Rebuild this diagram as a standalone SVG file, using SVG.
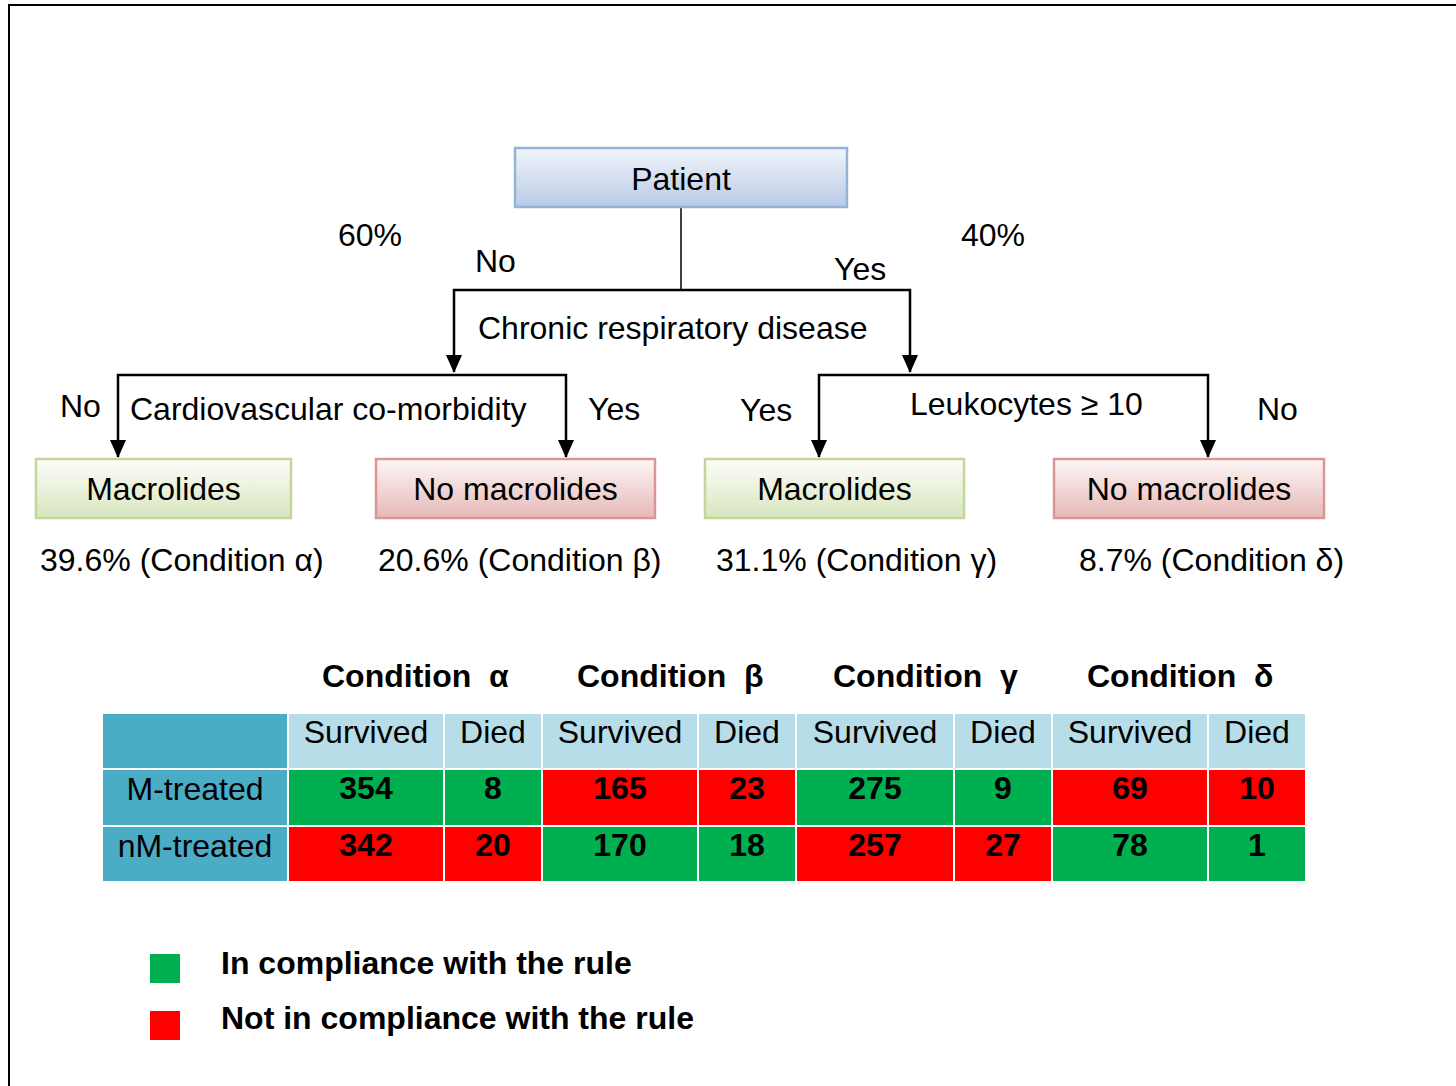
<svg xmlns="http://www.w3.org/2000/svg" width="1456" height="1086" viewBox="0 0 1456 1086">
<defs>
  <linearGradient id="gBlue" x1="0" y1="0" x2="0" y2="1">
    <stop offset="0" stop-color="#f2f5fb"/>
    <stop offset="1" stop-color="#b8cae6"/>
  </linearGradient>
  <linearGradient id="gGreen" x1="0" y1="0" x2="0" y2="1">
    <stop offset="0" stop-color="#fdfef9"/>
    <stop offset="1" stop-color="#d8e5be"/>
  </linearGradient>
  <linearGradient id="gRed" x1="0" y1="0" x2="0" y2="1">
    <stop offset="0" stop-color="#fdf6f6"/>
    <stop offset="1" stop-color="#e6b9b8"/>
  </linearGradient>
  <marker id="arr" markerUnits="userSpaceOnUse" markerWidth="18" markerHeight="16" viewBox="0 0 18 16" refX="17" refY="8" orient="auto">
    <path d="M0,0 L18,8 L0,16 Z" fill="#000"/>
  </marker>
  <style>
    text { font-family: "Liberation Sans", Arial, sans-serif; fill: #000; }
    .t { font-size: 32px; }
    .b { font-size: 32px; font-weight: bold; }
    .c { text-anchor: middle; }
    .pre { white-space: pre; }
    .ln { fill: none; stroke: #000; stroke-width: 2.5; }
    .hdr { fill: #b7dde8; stroke: #fff; stroke-width: 2; }
    .rh { fill: #4bacc6; stroke: #fff; stroke-width: 2; }
    .gr { fill: #00b050; stroke: #fff; stroke-width: 2; }
    .rd { fill: #ff0000; stroke: #fff; stroke-width: 2; }
  </style>
</defs>
<rect x="0" y="0" width="1456" height="1086" fill="#fff"/>
<g id="frame">
  <line x1="8" y1="5" x2="1456" y2="5" stroke="#000" stroke-width="2"/>
  <line x1="9" y1="5" x2="9" y2="1086" stroke="#000" stroke-width="2"/>
</g>

<g id="connectors">
  <line x1="681" y1="207" x2="681" y2="290" stroke="#000" stroke-width="1.5"/>
  <path class="ln" d="M681,290 H454 V372" marker-end="url(#arr)"/>
  <path class="ln" d="M681,290 H910 V372" marker-end="url(#arr)"/>
  <path class="ln" d="M340,375 H118 V457" marker-end="url(#arr)"/>
  <path class="ln" d="M340,375 H566 V457" marker-end="url(#arr)"/>
  <path class="ln" d="M1010,375 H819 V457" marker-end="url(#arr)"/>
  <path class="ln" d="M1010,375 H1208 V457" marker-end="url(#arr)"/>
</g>

<g id="edge-labels">
  <text class="t" x="338" y="246">60%</text>
  <text class="t" x="961" y="246">40%</text>
  <text class="t" x="475" y="272">No</text>
  <text class="t" x="834" y="280">Yes</text>
  <text class="t" x="478" y="339">Chronic respiratory disease</text>
  <text class="t" x="60" y="417">No</text>
  <text class="t" x="130" y="420">Cardiovascular co-morbidity</text>
  <text class="t" x="588" y="420">Yes</text>
  <text class="t" x="740" y="421">Yes</text>
  <text class="t" x="910" y="415">Leukocytes ≥ 10</text>
  <text class="t" x="1257" y="420">No</text>
</g>

<g id="patient">
  <rect x="515" y="148" width="332" height="59" fill="url(#gBlue)" stroke="#95b3d7" stroke-width="2.5"/>
  <text class="t c" x="681" y="190">Patient</text>
</g>
<g id="macrolides-left">
  <rect x="36" y="459" width="255" height="59" fill="url(#gGreen)" stroke="#c3d69b" stroke-width="2.5"/>
  <text class="t c" x="163.5" y="500">Macrolides</text>
</g>
<g id="no-macrolides-left">
  <rect x="376" y="459" width="279" height="59" fill="url(#gRed)" stroke="#d99694" stroke-width="2.5"/>
  <text class="t c" x="515.5" y="500">No macrolides</text>
</g>
<g id="macrolides-right">
  <rect x="705" y="459" width="259" height="59" fill="url(#gGreen)" stroke="#c3d69b" stroke-width="2.5"/>
  <text class="t c" x="834.5" y="500">Macrolides</text>
</g>
<g id="no-macrolides-right">
  <rect x="1054" y="459" width="270" height="59" fill="url(#gRed)" stroke="#d99694" stroke-width="2.5"/>
  <text class="t c" x="1189" y="500">No macrolides</text>
</g>

<g id="percentages">
  <text class="t" x="40" y="571">39.6% (Condition α)</text>
  <text class="t" x="378" y="571">20.6% (Condition β)</text>
  <text class="t" x="716" y="571">31.1% (Condition γ)</text>
  <text class="t" x="1079" y="571">8.7% (Condition δ)</text>
</g>

<g id="table">
  <g id="table-titles">
    <text class="b pre" x="322" y="687">Condition  α</text>
    <text class="b pre" x="577" y="687">Condition  β</text>
    <text class="b pre" x="833" y="687">Condition  γ</text>
    <text class="b pre" x="1087" y="687">Condition  δ</text>
  </g>
  <g id="table-cells">
    <rect class="rh" x="102" y="713" width="186" height="56"/>
    <rect class="rh" x="102" y="769" width="186" height="57"/>
    <rect class="rh" x="102" y="826" width="186" height="56"/>

    <rect class="hdr" x="288" y="713" width="156" height="56"/>
    <rect class="hdr" x="444" y="713" width="98" height="56"/>
    <rect class="hdr" x="542" y="713" width="156" height="56"/>
    <rect class="hdr" x="698" y="713" width="98" height="56"/>
    <rect class="hdr" x="796" y="713" width="158" height="56"/>
    <rect class="hdr" x="954" y="713" width="98" height="56"/>
    <rect class="hdr" x="1052" y="713" width="156" height="56"/>
    <rect class="hdr" x="1208" y="713" width="98" height="56"/>

    <rect class="gr" x="288" y="769" width="156" height="57"/>
    <rect class="gr" x="444" y="769" width="98" height="57"/>
    <rect class="rd" x="542" y="769" width="156" height="57"/>
    <rect class="rd" x="698" y="769" width="98" height="57"/>
    <rect class="gr" x="796" y="769" width="158" height="57"/>
    <rect class="gr" x="954" y="769" width="98" height="57"/>
    <rect class="rd" x="1052" y="769" width="156" height="57"/>
    <rect class="rd" x="1208" y="769" width="98" height="57"/>

    <rect class="rd" x="288" y="826" width="156" height="56"/>
    <rect class="rd" x="444" y="826" width="98" height="56"/>
    <rect class="gr" x="542" y="826" width="156" height="56"/>
    <rect class="gr" x="698" y="826" width="98" height="56"/>
    <rect class="rd" x="796" y="826" width="158" height="56"/>
    <rect class="rd" x="954" y="826" width="98" height="56"/>
    <rect class="gr" x="1052" y="826" width="156" height="56"/>
    <rect class="gr" x="1208" y="826" width="98" height="56"/>
  </g>
  <g id="table-text">
    <text class="t c" x="366" y="743">Survived</text>
    <text class="t c" x="493" y="743">Died</text>
    <text class="t c" x="620" y="743">Survived</text>
    <text class="t c" x="747" y="743">Died</text>
    <text class="t c" x="875" y="743">Survived</text>
    <text class="t c" x="1003" y="743">Died</text>
    <text class="t c" x="1130" y="743">Survived</text>
    <text class="t c" x="1257" y="743">Died</text>

    <text class="t c" x="195" y="800">M-treated</text>
    <text class="t c" x="195" y="857">nM-treated</text>

    <text class="b c" x="366" y="799">354</text>
    <text class="b c" x="493" y="799">8</text>
    <text class="b c" x="620" y="799">165</text>
    <text class="b c" x="747" y="799">23</text>
    <text class="b c" x="875" y="799">275</text>
    <text class="b c" x="1003" y="799">9</text>
    <text class="b c" x="1130" y="799">69</text>
    <text class="b c" x="1257" y="799">10</text>

    <text class="b c" x="366" y="856">342</text>
    <text class="b c" x="493" y="856">20</text>
    <text class="b c" x="620" y="856">170</text>
    <text class="b c" x="747" y="856">18</text>
    <text class="b c" x="875" y="856">257</text>
    <text class="b c" x="1003" y="856">27</text>
    <text class="b c" x="1130" y="856">78</text>
    <text class="b c" x="1257" y="856">1</text>
  </g>
</g>

<g id="legend">
  <rect x="150" y="954" width="30" height="29" fill="#00b050"/>
  <text class="b" x="221" y="974">In compliance with the rule</text>
  <rect x="150" y="1011" width="30" height="29" fill="#ff0000"/>
  <text class="b" x="221" y="1029">Not in compliance with the rule</text>
</g>
</svg>
